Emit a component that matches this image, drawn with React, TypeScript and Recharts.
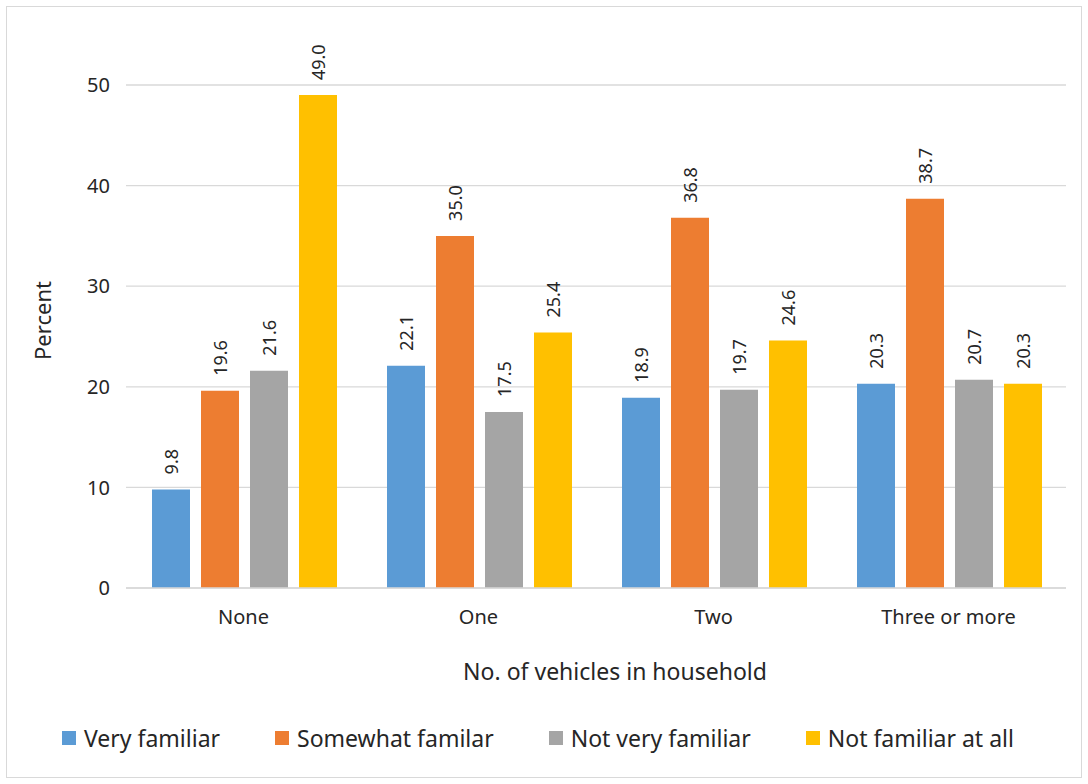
import React from "react";
import {
  Bar,
  BarChart,
  CartesianGrid,
  Label,
  Legend,
  XAxis,
  YAxis,
} from "recharts";

const categories = ["None", "One", "Two", "Three or more"];
const veryFamiliar = [9.8, 22.1, 18.9, 20.3];
const somewhatFamiliar = [19.6, 35.0, 36.8, 38.7];
const notVeryFamiliar = [21.6, 17.5, 19.7, 20.7];
const notFamiliarAtAll = [49.0, 25.4, 24.6, 20.3];
const yTicks = [0, 10, 20, 30, 40, 50];

const series = [
  { key: "very", name: "Very familiar", color: "#5B9BD5", values: veryFamiliar },
  { key: "somewhat", name: "Somewhat familar", color: "#ED7D31", values: somewhatFamiliar },
  { key: "notVery", name: "Not very familiar", color: "#A5A5A5", values: notVeryFamiliar },
  { key: "notAtAll", name: "Not familiar at all", color: "#FFC000", values: notFamiliarAtAll },
];

const data = categories.map((category, i) => {
  const row: Record<string, string | number> = { category };
  series.forEach((s) => {
    row[s.key] = s.values[i];
  });
  return row;
});

const FONT = "'Noto Sans', 'Open Sans', sans-serif";
const TEXT = "#262626";

// value printed vertically just above the bar top
const VerticalLabel = (props: any) => {
  const { x, y, width, value } = props;
  const cx = x + width / 2;
  const ty = y - 15;
  return (
    <text
      x={cx}
      y={ty}
      transform={`rotate(-90 ${cx} ${ty})`}
      textAnchor="start"
      dominantBaseline="central"
      fontSize={18}
      fontFamily={FONT}
      fill={TEXT}
    >
      {Number(value).toFixed(1)}
    </text>
  );
};

// y-axis title, sits a little above the plot's middle
const PercentTitle = (props: any) => {
  const { viewBox } = props;
  const tx = 42;
  const ty = viewBox.y + viewBox.height / 2 - 16;
  return (
    <text
      x={tx}
      y={ty}
      transform={`rotate(-90 ${tx} ${ty})`}
      textAnchor="middle"
      dominantBaseline="central"
      fontSize={22}
      fontFamily={FONT}
      fill={TEXT}
    >
      Percent
    </text>
  );
};

const LegendContent = () => (
  <div
    style={{
      height: 86,
      width: 1088,
      display: "flex",
      flexWrap: "nowrap",
      alignItems: "flex-start",
      paddingTop: 24,
      paddingLeft: 62,
      boxSizing: "border-box",
      fontFamily: FONT,
      fontSize: 23,
      color: TEXT,
      whiteSpace: "nowrap",
    }}
  >
    {series.map((s, i) => (
      <div
        key={s.key}
        style={{
          display: "flex",
          alignItems: "center",
          flexShrink: 0,
          marginRight: i < series.length - 1 ? 55 : 0,
        }}
      >
        <span
          style={{
            width: 14,
            height: 14,
            background: s.color,
            display: "inline-block",
            marginRight: 8,
            flexShrink: 0,
          }}
        />
        <span>{s.name}</span>
      </div>
    ))}
  </div>
);

export default function App() {
  return (
    <div
      style={{
        position: "absolute",
        left: 0,
        top: 0,
        width: 1088,
        height: 784,
        background: "#fff",
      }}
    >
      <div
        style={{
          position: "absolute",
          left: 6,
          top: 6,
          width: 1074,
          height: 770,
          border: "1px solid #d9d9d9",
        }}
      />
      <BarChart
        width={1088}
        height={784}
        data={data}
        margin={{ top: 85, right: 22, left: 0, bottom: 0 }}
        barCategoryGap={26}
        barGap={11}
      >
        <CartesianGrid vertical={false} stroke="#d9d9d9" strokeWidth={1.3} />
        <XAxis
          dataKey="category"
          height={110}
          tickLine={false}
          tickSize={0}
          tickMargin={22}
          axisLine={{ stroke: "#d9d9d9", strokeWidth: 1.3 }}
          tick={{ fontSize: 20, fontFamily: FONT, fill: TEXT }}
        >
          <Label
            value="No. of vehicles in household"
            position="insideBottom"
            offset={18}
            dx={19}
            style={{ fontSize: 23, fontFamily: FONT, fill: TEXT }}
          />
        </XAxis>
        <YAxis
          width={126}
          domain={[0, 50]}
          ticks={yTicks}
          interval={0}
          axisLine={false}
          tickLine={false}
          tickSize={0}
          tickMargin={16}
          tick={{ fontSize: 20, fontFamily: FONT, fill: TEXT }}
        >
          <Label content={<PercentTitle />} />
        </YAxis>
        <Legend
          verticalAlign="bottom"
          wrapperStyle={{ left: 0, width: 1088 }}
          content={<LegendContent />}
        />
        {series.map((s) => (
          <Bar
            key={s.key}
            dataKey={s.key}
            name={s.name}
            fill={s.color}
            isAnimationActive={false}
            label={<VerticalLabel />}
          />
        ))}
      </BarChart>
    </div>
  );
}
